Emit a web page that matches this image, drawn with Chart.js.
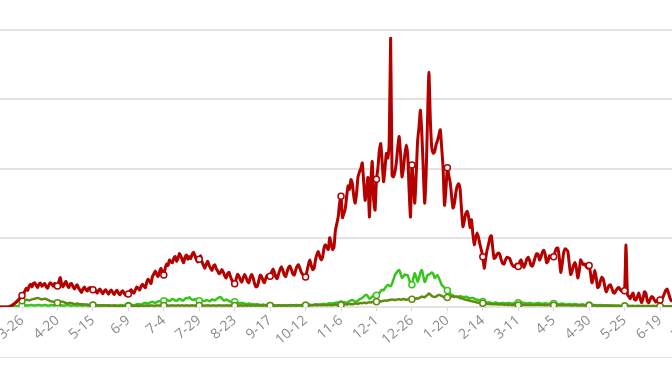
<!DOCTYPE html>
<html>
<head>
<meta charset="utf-8">
<script src="https://cdn.jsdelivr.net/npm/chart.js@4/dist/chart.umd.min.js"></script>
<style>
html, body { margin: 0; padding: 0; background: #fff; }
#frame { position: relative; width: 672px; height: 372px; overflow: hidden; background: #fff; }
#box { position: absolute; left: -60px; top: 0; width: 792px; height: 372px; }
#rule { position: absolute; left: 0; top: 357px; width: 672px; border-top: 1px solid #e2e2e2; }
</style>
</head>
<body>
<div id="frame">
  <div id="box"><canvas id="chart"></canvas></div>
  <div id="rule"></div>
</div>
<script>
// daily values, first value is 3-1, the axis is labelled every 25 days
const firstDay = -25;

const tickLabels = ["3-26","4-20","5-15","6-9","7-4","7-29","8-23","9-17","10-12","11-6",
  "12-1","12-26","1-20","2-14","3-11","4-5","4-30","5-25","6-19","7-14"];

const redValues = [
  0,0,0,0,0,0,0,0,0,0,0,0,0,0,0,0,5,15,25,40,55,75,95,115,140,
  165,190,230,270,240,300,330,290,340,350,310,280,330,345,300,320,340,295,270,320,350,330,300,340,320,
  305,370,425,330,290,340,370,310,280,330,340,290,260,300,320,270,240,210,260,290,250,230,270,280,240,
  250,270,230,200,240,260,220,190,230,250,215,185,225,245,210,180,220,240,200,175,215,235,200,170,185,
  188,230,250,215,200,250,290,270,245,300,330,300,280,360,400,370,340,440,480,520,470,440,510,560,500,
  462,560,620,600,680,650,640,700,730,660,700,770,740,680,640,720,750,690,730,700,760,790,740,680,650,
  690,740,650,600,560,620,660,600,560,530,590,610,550,520,480,500,540,500,450,420,480,500,440,390,360,
  335,400,470,450,390,360,420,470,430,370,350,430,470,420,340,290,300,380,460,440,380,350,420,460,420,
  445,500,550,500,430,410,480,540,580,530,460,440,510,570,590,540,480,460,530,590,610,560,500,470,450,
  433,520,610,680,600,540,560,680,760,800,730,680,720,850,900,860,830,1000,920,830,860,1100,1200,1300,1500,
  1600,1290,1350,1420,1600,1750,1700,1840,1780,1600,1500,1650,1880,1950,2000,2080,1800,1540,1700,1870,1300,1800,2100,1550,1400,
  1845,2000,2250,2360,2100,1810,2000,2220,2150,2400,3880,1900,1880,1950,2080,2300,2460,2200,1880,2000,2200,2340,2200,1700,1300,
  2050,1800,1500,1900,2390,2600,2840,2500,2000,1500,1900,2700,3390,2700,2300,2220,2240,2340,2400,2480,2560,2300,2000,1470,1700,
  2010,1900,1800,1600,1430,1500,1650,1750,1780,1700,1400,1160,1250,1350,1380,1300,1150,1260,1050,900,1000,1070,1000,900,820,
  727,560,700,820,900,1000,1030,850,700,720,760,780,760,680,630,620,680,720,710,700,640,600,580,600,620,
  585,650,680,620,570,620,690,720,670,600,590,650,720,770,760,680,720,790,820,760,640,660,740,720,730,
  727,800,850,850,700,500,620,780,840,830,800,620,470,520,600,640,560,420,520,680,640,610,620,580,560,
  600,480,350,420,530,420,280,300,380,430,400,300,220,260,310,320,270,210,200,240,270,280,250,230,220,
  235,895,180,150,120,170,200,110,100,150,200,130,60,120,220,200,90,60,110,150,140,100,70,90,100,
  100,110,140,190,240,260,200,130,90,100,140,150,120,90,110,130,120,90,80,110,120,100,80,90,100,110,90,80,100,110,90
];

const greenValues = [
  0,0,0,0,0,0,0,0,0,0,0,0,0,0,0,0,5,5,5,10,10,10,15,15,15,
  20,25,30,25,20,25,30,30,25,20,25,30,30,25,20,25,30,25,20,20,25,30,25,20,20,
  20,25,30,25,20,20,25,30,25,20,20,25,25,20,20,25,25,20,20,25,25,20,20,25,20,
  25,20,20,25,25,20,20,25,25,20,20,25,25,20,20,25,25,20,20,25,30,25,20,20,20,
  20,25,30,30,25,30,40,45,40,35,45,55,60,55,50,60,70,75,65,60,70,80,85,75,70,
  90,100,110,95,85,100,115,110,95,90,105,120,110,95,100,120,130,125,140,120,105,100,115,110,100,
  90,100,95,85,90,100,95,85,90,110,105,95,110,125,140,145,120,100,95,110,100,85,80,75,75,
  75,70,65,60,55,60,55,50,45,45,50,45,40,40,35,40,40,35,30,30,35,30,30,30,25,
  20,20,25,25,20,20,25,25,20,20,25,25,20,25,25,30,25,25,30,30,25,25,30,30,25,
  25,30,35,35,30,30,35,40,40,35,35,40,45,45,40,45,50,55,50,50,55,60,65,60,55,
  45,55,65,70,60,70,85,95,100,90,75,80,95,110,120,130,150,170,175,150,120,130,150,170,180,
  170,190,200,230,250,240,270,300,320,310,300,340,400,460,490,520,535,480,420,440,470,460,460,400,340,
  320,420,490,430,360,420,500,535,450,360,400,460,470,480,500,480,420,440,460,420,370,320,300,275,250,
  240,220,190,175,165,155,150,145,150,160,150,145,140,150,140,130,125,130,130,120,110,105,100,95,85,
  78,75,70,65,70,65,60,55,60,65,60,55,50,55,60,55,50,55,60,55,50,50,55,60,55,
  60,55,60,65,60,55,50,55,60,55,50,45,50,55,60,55,50,45,50,55,50,45,50,55,50,
  50,45,50,45,40,45,50,45,40,35,40,45,40,35,40,45,40,35,30,35,40,35,30,30,35,
  30,30,25,30,30,25,20,25,30,25,20,20,25,25,20,20,25,20,20,15,20,20,15,15,20,
  15,15,20,15,10,15,15,10,10,15,15,10,10,15,10,10,15,10,10,10,15,10,10,10,10,
  10,10,10,10,10,10,10,10,10,10,10,10,10,10,10,10,10,10,10,10,10,10,10,10,10,10,10,10,10,10,10
];

const oliveValues = [
  0,0,0,0,0,0,0,0,0,0,0,0,0,0,0,0,0,10,20,35,50,65,80,90,95,
  90,95,100,105,100,95,100,110,115,120,125,130,125,115,110,115,120,115,105,95,85,80,75,70,65,
  60,65,75,80,75,65,60,55,55,60,55,50,45,45,50,45,40,40,40,35,35,35,30,30,30,
  28,25,25,25,20,20,25,20,20,20,20,20,15,15,20,15,15,15,15,15,15,15,15,15,15,
  15,15,20,15,15,15,20,15,15,20,20,15,20,20,15,20,20,20,15,20,20,20,20,15,20,
  20,20,25,20,20,20,25,20,20,20,25,20,20,25,20,20,25,20,20,20,25,20,20,25,20,
  20,20,25,20,20,20,25,20,20,20,25,20,20,20,25,20,20,20,20,25,20,20,20,20,20,
  20,20,20,20,25,20,20,20,20,20,25,20,20,20,20,20,25,20,20,20,20,25,20,20,20,
  20,20,25,20,20,20,25,20,20,20,25,20,20,25,20,20,25,25,20,20,25,25,20,20,25,
  25,25,25,20,25,25,25,30,25,25,30,25,25,30,30,25,30,30,25,30,30,35,30,30,35,
  30,35,35,40,35,40,45,40,40,45,50,50,45,55,58,55,60,60,55,65,70,65,70,75,75,
  77,80,85,80,85,90,95,90,95,100,105,110,105,100,105,110,111,105,110,115,110,105,110,115,110,
  111,115,120,125,120,130,140,150,145,140,160,175,195,180,160,150,145,150,165,175,170,160,150,140,137,
  137,140,145,150,150,145,148,150,140,130,125,120,110,105,100,95,90,85,80,75,70,65,60,58,55,
  53,50,48,45,45,42,40,40,38,40,38,35,35,38,35,33,35,32,30,32,30,30,28,30,30,
  30,28,30,30,28,30,32,30,28,30,30,28,30,32,30,28,28,30,28,26,28,30,28,26,25,
  25,28,26,25,25,28,26,25,24,25,26,25,24,22,24,25,24,22,22,24,22,20,22,22,20,
  20,22,20,20,22,20,18,20,20,18,20,20,18,18,20,18,18,16,18,18,16,15,16,16,15,
  15,15,16,15,14,15,15,14,14,15,14,14,13,14,14,13,14,13,13,13,14,13,13,12,12,
  12,12,12,12,12,12,12,12,12,12,12,12,12,12,12,12,12,12,12,12,12,12,12,12,12,12,12,12,12,12,12
];

const tickDays = tickLabels.map((_, i) => i * 25);

function series(values) {
  return values.map((v, i) => ({ x: firstDay + i, y: v }));
}

// open circles only on the labelled days
function markerRadius(ctx) {
  const d = firstDay + ctx.dataIndex;
  return d >= 0 && d % 25 === 0 ? 3 : 0;
}

function line(values, color, width) {
  return {
    data: series(values),
    borderColor: color,
    borderWidth: width,
    pointRadius: markerRadius,
    pointBackgroundColor: "#fff",
    pointBorderColor: color,
    pointBorderWidth: 1.5,
    tension: 0.2,
    fill: false
  };
}

new Chart(document.getElementById("chart"), {
  type: "line",
  data: {
    datasets: [
      line(redValues, "#b50000", 3),
      line(oliveValues, "#5e8c0f", 2.5),
      line(greenValues, "#38c51a", 2.5)
    ]
  },
  options: {
    animation: false,
    responsive: true,
    maintainAspectRatio: false,
    layout: { padding: { top: 30, bottom: 15, left: 0, right: 0 } },
    plugins: { legend: { display: false }, tooltip: { enabled: false } },
    scales: {
      x: {
        type: "linear",
        min: -57.84,
        max: 500.76,
        afterBuildTicks: s => { s.ticks = tickDays.map(v => ({ value: v })); },
        afterFit: s => { s.height = 50; },
        grid: { display: true, drawOnChartArea: false, drawTicks: true, tickLength: 4, color: "#d6d6d6" },
        border: { display: false },
        ticks: {
          autoSkip: false,
          minRotation: 40,
          maxRotation: 40,
          padding: 1,
          color: "#8a8a8a",
          font: { family: "Open Sans", size: 14 },
          callback: v => { const i = tickDays.indexOf(v); return i < 0 ? "" : tickLabels[i]; }
        }
      },
      y: {
        min: 0,
        max: 4000,
        afterFit: s => { s.width = 0; },
        ticks: { display: false, stepSize: 1000 },
        grid: { color: "#e3e3e3", lineWidth: 2, drawTicks: false },
        border: { display: false }
      }
    }
  }
});
</script>
</body>
</html>
